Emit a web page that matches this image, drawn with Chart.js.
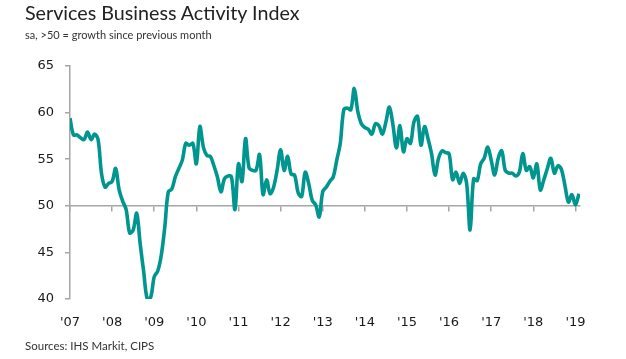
<!DOCTYPE html>
<html>
<head>
<meta charset="utf-8">
<script src="https://cdn.jsdelivr.net/npm/chart.js@4"></script>
<style>
  html, body { margin: 0; padding: 0; background: #fff; }
  body { width: 626px; height: 359px; position: relative; overflow: hidden; }
  #title { position: absolute; left: 25px; top: 1px; font-family: Lato, sans-serif; font-size: 19.7px; color: #222; white-space: nowrap; }
  #subtitle { position: absolute; left: 25px; top: 28px; font-family: Lato, sans-serif; font-size: 11px; color: #333; white-space: nowrap; }
  #source { position: absolute; left: 25px; top: 339px; font-family: Lato, sans-serif; font-size: 11.5px; color: #333; white-space: nowrap; }
  #wrap { position: absolute; left: 0; top: 0; width: 626px; height: 359px; }
</style>
</head>
<body>
<div id="wrap"><canvas id="pmiChart"></canvas></div>
<div id="title">Services Business Activity Index</div>
<div id="subtitle">sa, &gt;50 = growth since previous month</div>
<div id="source">Sources: IHS Markit, CIPS</div>
<script>
// tick labels (one per January)
const yearLabels = ["'07", "'08", "'09", "'10", "'11", "'12", "'13", "'14", "'15", "'16", "'17", "'18", "'19"];
const yTicks = [40, 45, 50, 55, 60, 65];

// monthly index values, Jan to Dec
const pmi2007 = [59.4, 57.6, 57.6, 57.3, 57.1, 57.9, 57.1, 57.7, 57.1, 53.4, 52.0, 52.4];
const pmi2008 = [52.6, 54.0, 51.7, 50.5, 49.6, 47.1, 47.4, 49.2, 45.9, 42.9, 40.0, 40.2];
const pmi2009 = [42.4, 43.0, 44.7, 47.7, 51.5, 51.8, 53.1, 54.0, 54.9, 56.7, 56.5, 56.7];
const pmi2010 = [54.5, 58.5, 56.3, 55.4, 55.3, 54.3, 53.1, 51.5, 52.9, 53.2, 53.1, 49.6];
const pmi2011 = [54.5, 52.6, 57.2, 54.1, 53.8, 53.8, 55.5, 51.2, 52.8, 51.3, 52.0, 53.8];
const pmi2012 = [56.0, 53.8, 55.3, 53.4, 53.3, 51.4, 51.0, 53.6, 52.4, 50.6, 50.1, 48.8];
const pmi2013 = [51.5, 52.0, 52.6, 53.1, 54.9, 56.7, 60.3, 60.5, 60.3, 62.6, 60.1, 58.8];
const pmi2014 = [58.4, 58.2, 57.7, 58.8, 58.6, 57.7, 59.0, 60.6, 58.7, 56.2, 58.6, 55.8];
const pmi2015 = [57.2, 56.7, 59.0, 59.6, 56.5, 58.5, 57.2, 55.6, 53.3, 55.1, 55.9, 55.7];
const pmi2016 = [55.6, 52.8, 53.6, 52.4, 53.5, 52.4, 47.4, 52.9, 52.7, 54.5, 55.1, 56.3];
const pmi2017 = [54.9, 53.3, 55.1, 55.9, 53.8, 53.5, 53.5, 53.2, 53.6, 55.6, 53.8, 54.2];
const pmi2018 = [53.0, 54.5, 51.7, 52.8, 54.0, 55.1, 53.5, 54.3, 53.9, 52.2, 50.4, 51.2];
const pmi2019 = [50.1, 51.3];

const allValues = [].concat(pmi2007, pmi2008, pmi2009, pmi2010, pmi2011, pmi2012, pmi2013,
  pmi2014, pmi2015, pmi2016, pmi2017, pmi2018, pmi2019);
const points = allValues.map((v, i) => ({ x: i, y: v }));

const axisGrey = '#a6a6a6';
const yearTicks = (scale) => { scale.ticks = yearLabels.map((l, i) => ({ value: i * 12 })); };

new Chart(document.getElementById('pmiChart'), {
  type: 'line',
  data: {
    datasets: [{
      data: points,
      borderColor: '#00968f',
      borderWidth: 3.6,
      pointRadius: 0,
      tension: 0.35,
      fill: false
    }]
  },
  options: {
    responsive: true,
    maintainAspectRatio: false,
    animation: false,
    layout: { padding: { top: 66, right: 46, left: 0, bottom: 0 } },
    plugins: { legend: { display: false }, tooltip: { enabled: false } },
    scales: {
      x: {
        type: 'linear',
        min: 0,
        max: 145.3,
        afterBuildTicks: yearTicks,
        afterFit: (s) => { s.height = 60; },
        grid: { display: false },
        border: { display: false },
        ticks: {
          padding: 8,
          color: '#1a1a1a',
          font: { family: 'DejaVu Sans', size: 13 },
          maxRotation: 0,
          autoSkip: false,
          callback: (v, i) => yearLabels[i]
        }
      },
      x50: {
        type: 'linear',
        position: { y: 50 },
        min: 0,
        max: 145.3,
        afterBuildTicks: yearTicks,
        grid: { drawOnChartArea: false, drawTicks: true, tickLength: 5, color: axisGrey, lineWidth: 1.5 },
        border: { display: true, color: axisGrey, width: 1.5 },
        ticks: { display: false }
      },
      y: {
        min: 40,
        max: 65,
        afterBuildTicks: (s) => { s.ticks = yTicks.map(v => ({ value: v })); },
        afterFit: (s) => { s.width = 70; },
        grid: { drawOnChartArea: false, drawTicks: true, tickLength: 5, color: axisGrey, lineWidth: 1.5 },
        border: { display: true, color: axisGrey, width: 1.5 },
        ticks: {
          padding: 11,
          color: '#1a1a1a',
          font: { family: 'DejaVu Sans', size: 13 }
        }
      }
    }
  }
});
</script>
</body>
</html>
